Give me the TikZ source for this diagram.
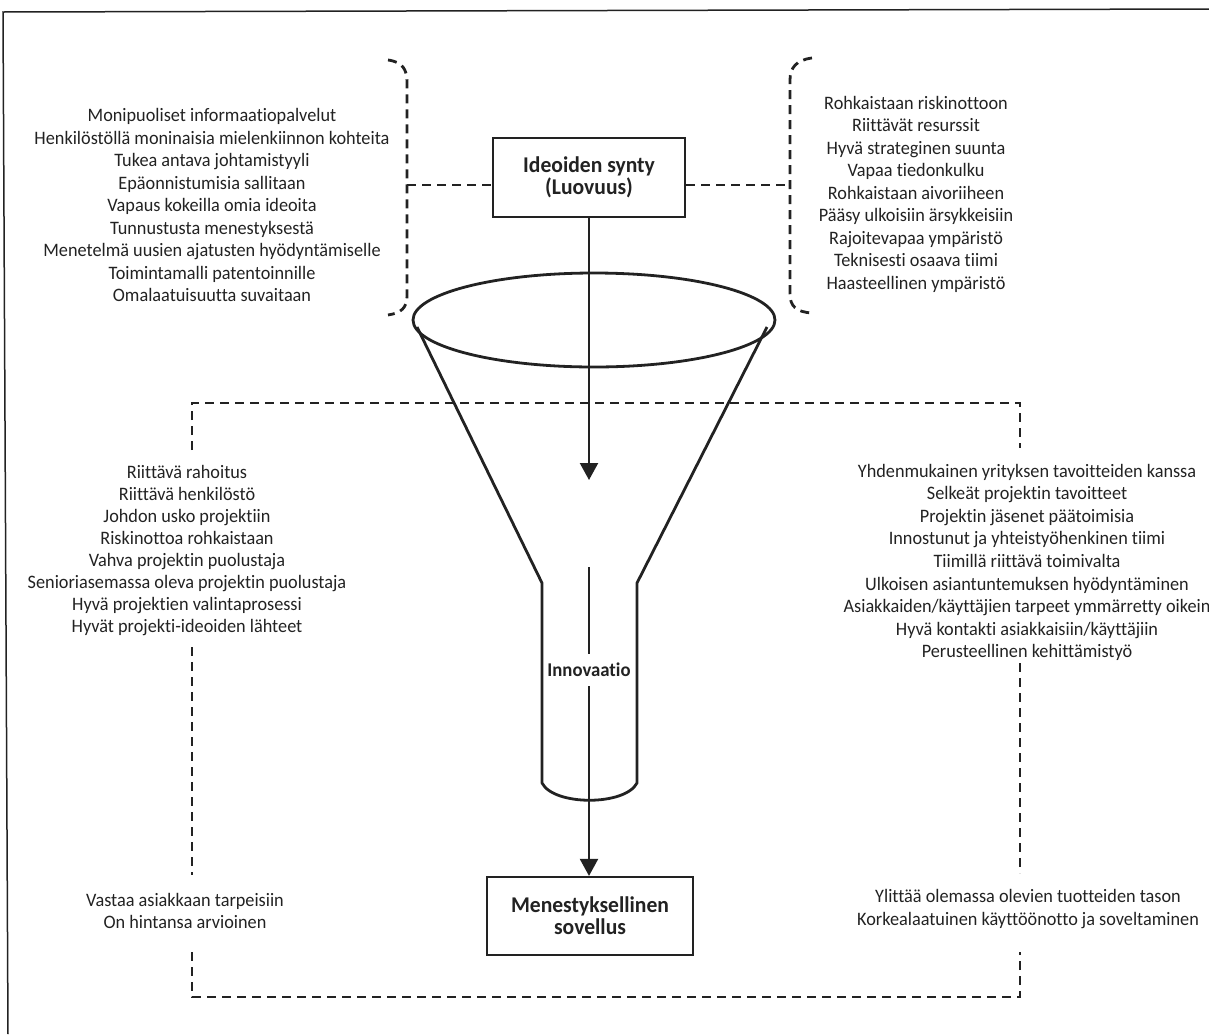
\documentclass[tikz,border=0pt]{standalone}
\usepackage{fontspec}
\setmainfont{Carlito}[Ligatures=NoCommon,FakeStretch=0.96]
\usetikzlibrary{arrows.meta,calc}
\definecolor{ink}{HTML}{222222}
\tikzset{
  txt/.style={align=center,text=ink,font=\fontsize{19}{22.5}\selectfont,inner sep=0pt},
  dsh/.style={draw=ink,line width=2.8pt,dash pattern=on 9pt off 6pt},
  solidline/.style={draw=ink,line width=2.8pt},
  boxstyle/.style={draw=ink,line width=2.2pt,align=center,text=ink,font=\bfseries\fontsize{22.5}{22}\selectfont,inner sep=0pt},
  arr/.style={draw=ink,line width=2.2pt,-{Triangle[width=18pt,length=17pt]}}
}
\begin{document}
\begin{tikzpicture}[x=1pt,y=-1pt]
\useasboundingbox (0,0) rectangle (1209,1034);
% page frame
\coordinate (f1) at (3,12);
\coordinate (f2) at (1209,9);
\coordinate (f3) at (8,1034);
\draw[ink,line width=1.5pt] (f2) -- (f1) -- (f3);

% boxes
\node[boxstyle,minimum width=192pt,minimum height=79pt] (ideas) at (589,177.5) {Ideoiden synty\\(Luovuus)};
\node[boxstyle,minimum width=206pt,minimum height=78pt] (succ) at (590,916) {Menestyksellinen\\sovellus};

% text blocks
\node[txt] (lt) at (212,205) {Monipuoliset informaatiopalvelut\\Henkilöstöllä moninaisia mielenkiinnon kohteita\\Tukea antava johtamistyyli\\Epäonnistumisia sallitaan\\Vapaus kokeilla omia ideoita\\Tunnustusta menestyksestä\\Menetelmä uusien ajatusten hyödyntämiselle\\Toimintamalli patentoinnille\\Omalaatuisuutta suvaitaan};
\node[txt] (rt) at (916,194) {Rohkaistaan riskinottoon\\Riittävät resurssit\\Hyvä strateginen suunta\\Vapaa tiedonkulku\\Rohkaistaan aivoriiheen\\Pääsy ulkoisiin ärsykkeisiin\\Rajoitevapaa ympäristö\\Teknisesti osaava tiimi\\Haasteellinen ympäristö};
\node[txt,font=\fontsize{19}{22.1}\selectfont] (lm) at (187,550.5) {Riittävä rahoitus\\Riittävä henkilöstö\\Johdon usko projektiin\\Riskinottoa rohkaistaan\\Vahva projektin puolustaja\\Senioriasemassa oleva projektin puolustaja\\Hyvä projektien valintaprosessi\\Hyvät projekti-ideoiden lähteet};
\node[txt,font=\fontsize{19}{22.6}\selectfont] (rm) at (1027,562.5) {Yhdenmukainen yrityksen tavoitteiden kanssa\\Selkeät projektin tavoitteet\\Projektin jäsenet päätoimisia\\Innostunut ja yhteistyöhenkinen tiimi\\Tiimillä riittävä toimivalta\\Ulkoisen asiantuntemuksen hyödyntäminen\\Asiakkaiden/käyttäjien tarpeet ymmärretty oikein\\Hyvä kontakti asiakkaisiin/käyttäjiin\\Perusteellinen kehittämistyö};
\node[txt] (lb) at (185,911) {Vastaa asiakkaan tarpeisiin\\On hintansa arvioinen};
\node[txt] (rb) at (1028,909) {Ylittää olemassa olevien tuotteiden tason\\Korkealaatuinen käyttöönotto ja soveltaminen};

% brackets
\draw[dsh] (388,60) .. controls (403,62) and (407,70) .. (407,82) -- (407,296) .. controls (407,308) and (401,313) .. (388,315);
\draw[dsh] (812,58) .. controls (796,60) and (790,68) .. (790,80) -- (790,294) .. controls (790,306) and (796,312) .. (812,313);
\coordinate (lbr) at (407,185);
\coordinate (rbr) at (790,185);
\draw[dsh] (lbr) -- (ideas.west |- lbr);
\draw[dsh] (ideas.east |- rbr) -- (rbr);

% dashed frame around implementation
\draw[dsh] (192,450) -- (192,403) -- (1020,403) -- (1020,448);
\draw[dsh] (192,647) -- (192,875);
\draw[dsh] (1020,663) -- (1020,873);
\draw[dsh] (192,952) -- (192,997) -- (1020,997) -- (1020,952);

% funnel
\draw[solidline] (594,320) ellipse [x radius=181, y radius=47];
\draw[solidline,line join=round] (417,327) -- (542,583) -- (542,783) .. controls (554,806) and (625,806) .. (637,783) -- (637,583) -- (767,327);

% flow
\coordinate (a1) at (589,480);
\draw[arr] (ideas.south -| a1) -- (a1);
\node[text=ink,font=\bfseries\fontsize{19.5}{20}\selectfont,inner sep=0pt,minimum height=32pt] (innov) at (589,670) {Innovaatio};
\coordinate (i0) at (589,567);
\draw[ink,line width=1.8pt] (i0) -- (innov.north);
\draw[arr] (innov.south) -- (succ.north -| innov.south);
\end{tikzpicture}
\end{document}
